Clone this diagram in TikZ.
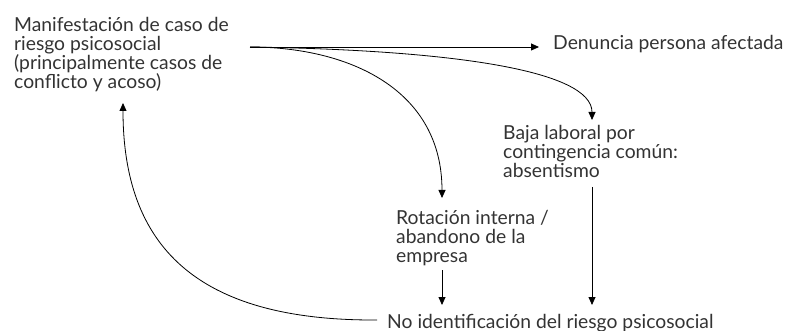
\documentclass[tikz,border=0pt]{standalone}
\usepackage{fontspec}
\setmainfont{Lato}
\usetikzlibrary{arrows.meta}
\begin{document}
\begin{tikzpicture}[x=1pt,y=-1pt,
  lbl/.style={anchor=base west, inner sep=0pt, align=left, text=black!80,
    font=\fontsize{19.3}{19}\selectfont},
  conn/.style={line width=0.8pt, -{Triangle[length=8pt,width=7pt]}}]
\useasboundingbox (0,0) rectangle (803,331);
% anchor base west = baseline of the last line
\node[lbl] (man) at (14,88.5) {Manifestación de caso de\\riesgo psicosocial\\(principalmente casos de\\conflicto y acoso)};
\node[lbl] (den) at (553,49.5) {Denuncia persona afectada};
\node[lbl] (baja) at (503,178) {Baja laboral por\\contingencia común:\\absentismo};
\node[lbl] (rot) at (396,262) {Rotación interna /\\abandono de la\\empresa};
\node[lbl] (noid) at (387,328) {No identificación del riesgo psicosocial};
\coordinate (s) at (250,47);
\coordinate (dentip) at (539,47);
\coordinate (bajatip) at (592,120);
\coordinate (rottip) at (442,198);
\coordinate (bajabot) at (592,187);
\coordinate (noidtop) at (592,305);
\coordinate (rotbot) at (442,270);
\coordinate (noidtop2) at (442,305);
\coordinate (loopstart) at (377,320);
\coordinate (looptip) at (123,103);
\draw[conn] (s) -- (dentip);
\draw[conn] (s) .. controls (450,50) and (592,70) .. (bajatip);
\draw[conn] (s) .. controls (350,47) and (442,90) .. (rottip);
\draw[conn] (bajabot) -- (noidtop);
\draw[conn] (rotbot) -- (noidtop2);
\draw[conn] (loopstart) .. controls (195,321) and (123,245) .. (looptip);
\end{tikzpicture}
\end{document}
